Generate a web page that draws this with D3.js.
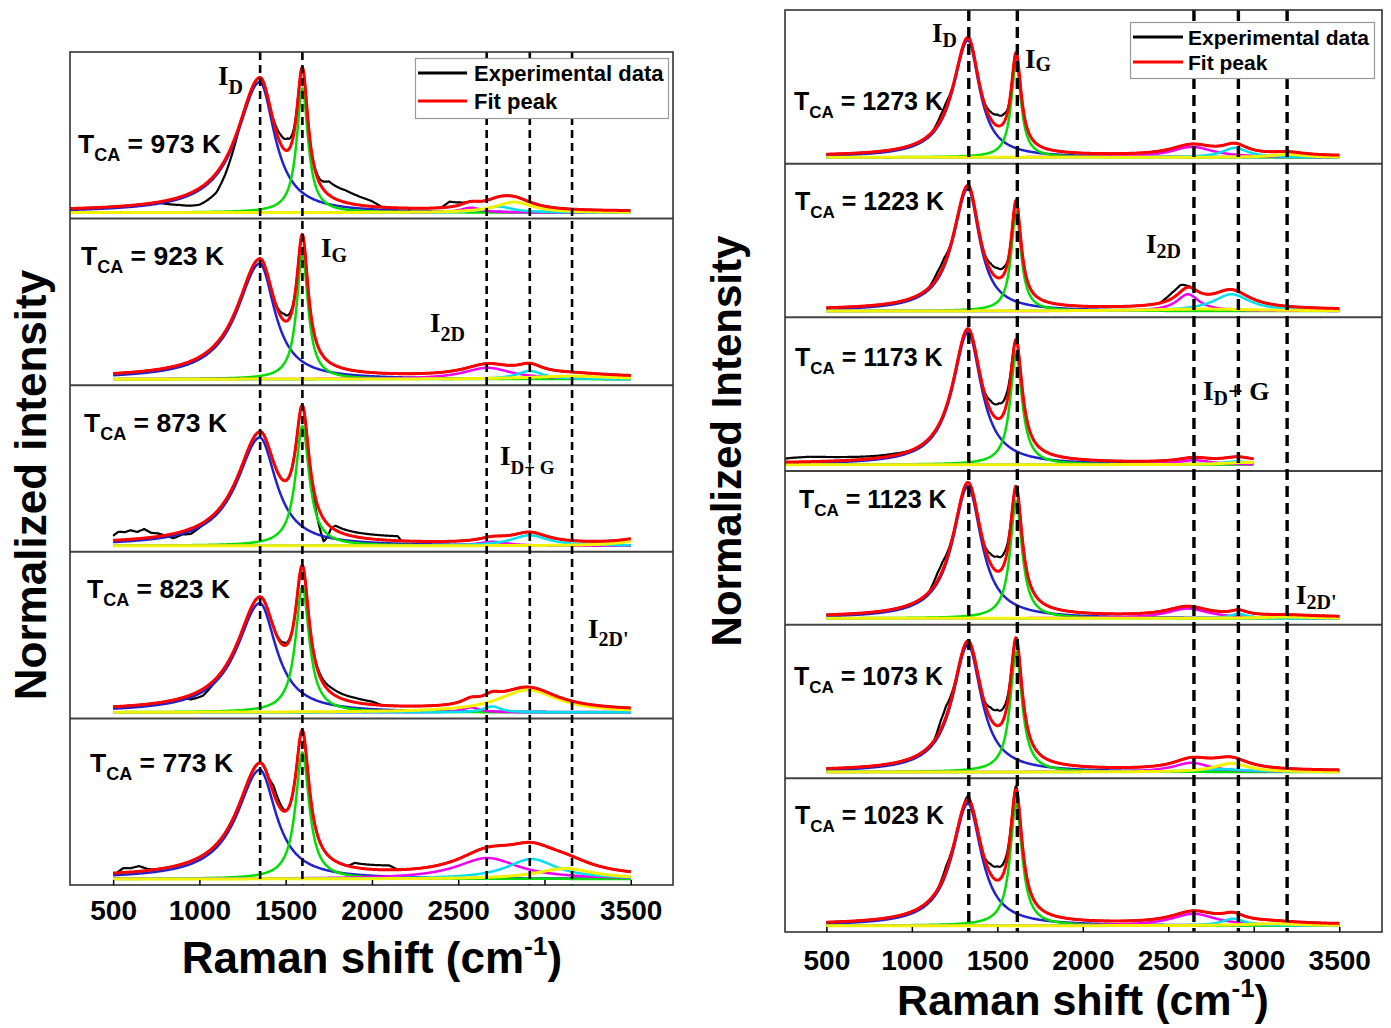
<!DOCTYPE html>
<html>
<head>
<meta charset="utf-8">
<script src="https://cdn.jsdelivr.net/npm/d3@7"></script>
<style>
  html, body { margin: 0; padding: 0; background: #ffffff; }
  svg { display: block; }
  text { font-family: "Liberation Sans", Arial, Helvetica, sans-serif; font-weight: bold; fill: #000; white-space: pre; }
  text.serif { font-family: "Liberation Serif", "Times New Roman", Times, serif; }
</style>
</head>
<body>
<svg id="chart" width="1391" height="1028"></svg>
<script>
// ---------- data ----------
const xTicks = [500, 1000, 1500, 2000, 2500, 3000, 3500];

const leftTemps  = [973, 923, 873, 823, 773];
const rightTemps = [1273, 1223, 1173, 1123, 1073, 1023];

// band positions marked with dashed guides (cm^-1): D, G, 2D, D+G, 2D'
const leftMarkers  = [1352, 1597, 2665, 2915, 3160];
const rightMarkers = [1333, 1617, 2650, 2910, 3195];

// measured scan window (cm^-1)
const leftScanStart  = [250, 500, 500, 500, 500];
const leftScanEnd    = [3500, 3500, 3500, 3500, 3500];
const rightScanStart = [500, 500, 258, 500, 500, 500];
const rightScanEnd   = [3500, 3500, 3000, 3500, 3500, 3500];

// constant background of the cumulative fit (normalized units)
const leftFitBaseline  = [0.008, 0.01, 0.01, 0.01, 0.01];
const rightFitBaseline = [0.008, 0.008, 0.008, 0.008, 0.008, 0.008];

// fitted Lorentzian bands: [band, centre, height, left HWHM, right HWHM]
const peaks973 = [["D",1350,0.870,160,105],["G",1597,0.825,40,40],["P1",2573,0.033,70,70],["P2",2735,0.040,100,100],["P3",2825,0.070,130,130]];
const peaks923 = [["D",1350,0.770,160,105],["G",1597,0.834,40,40],["P1",2670,0.076,170,170],["P2",2915,0.055,90,90],["P3",3150,0.020,300,300]];
const peaks873 = [["D",1350,0.721,160,115],["G",1597,0.797,48,48],["P1",2700,0.027,100,100],["P2",2915,0.070,130,130],["P3",3600,0.045,150,150]];
const peaks823 = [["D",1350,0.727,160,115],["G",1597,0.836,48,48],["P1",2573,0.033,60,60],["P2",2697,0.040,60,60],["P3",2905,0.150,210,210]];
const peaks773 = [["D",1350,0.727,160,115],["G",1597,0.843,48,48],["P1",2670,0.140,220,220],["P2",2925,0.133,177,177],["P3",3120,0.070,200,200]];

const peaks1273 = [["D",1328,0.837,105,82],["G",1610,0.673,35,35],["P1",2640,0.075,150,150],["P2",2890,0.068,90,90],["P3",3197,0.021,120,120]];
const peaks1223 = [["D",1328,0.877,105,82],["G",1610,0.710,35,35],["P1",2615,0.120,80,80],["P2",2870,0.120,130,130],["P3",2700,0.014,400,400]];
const peaks1173 = [["D",1328,0.946,108,95],["G",1610,0.789,42,42],["P1",2650,0.032,120,120],["P2",2900,0.024,100,100],["P3",2950,0.016,150,150]];
const peaks1123 = [["D",1328,0.944,108,95],["G",1610,0.839,42,42],["P1",2614,0.070,150,150],["P2",2912,0.032,60,60],["P3",3200,0.010,200,200]];
const peaks1073 = [["D",1328,0.909,108,95],["G",1610,0.857,42,42],["P1",2635,0.066,130,130],["P2",2800,0.020,200,200],["P3",2870,0.062,120,120]];
const peaks1023 = [["D",1328,0.873,110,95],["G",1610,0.875,42,42],["P1",2648,0.085,160,160],["P2",2880,0.050,80,80],["P3",3100,0.014,200,200]];

// experimental minus fit: [shift, difference]
const resid973 = [[750,0],[880,-0.05],[1000,-0.11],[1100,-0.13],[1150,-0.1],[1200,-0.05],[1240,0],
  [1420,0],[1470,0.06],[1510,0.08],[1550,0.03],[1580,0],
  [1650,0],[1700,0.03],[1750,0.09],[1850,0.08],[1950,0.05],[2000,0.035],[2060,0],[2150,-0.02],[2190,-0.03],[2230,0],
  [2400,0],[2450,0.035],[2500,0.02],[2550,0]];
const resid923 = [[850,0],[930,-0.015],[1000,0],[1440,0],[1490,0.045],[1540,0.02],[1570,0]];
const resid873 = [[500,0.03],[530,0.055],[570,0.05],[600,0.06],[640,0.045],[680,0.06],[720,0.03],[760,0.02],[800,0],
  [850,-0.03],[900,-0.02],[950,-0.035],[1000,-0.02],[1050,0],
  [1640,0],[1690,-0.1],[1720,-0.15],[1745,-0.08],[1765,0],[1790,0.03],[2150,0.03],[2170,0]];
const resid823 = [[900,0],[950,-0.03],[1020,-0.045],[1080,-0.02],[1120,0],[1440,0],[1490,0.02],[1540,0],
  [1640,0],[1700,0.02],[1770,0.035],[1900,0.03],[2000,0.02],[2060,0]];
const resid773 = [[520,0],[560,0.03],[600,0.025],[650,0.035],[700,0.01],[740,0],
  [1400,0],[1430,0.05],[1460,0.035],[1490,0.01],[1510,0],[1860,0],[1900,0.03],[2100,0.03],[2150,0]];

const resid1273 = [[1120,0],[1170,0.035],[1200,0.04],[1240,0],[1420,0],[1460,0.05],[1500,0.08],[1540,0.06],[1570,0]];
const resid1223 = [[1100,0],[1150,0.04],[1190,0.045],[1230,0],[1420,0],[1460,0.05],[1500,0.07],[1540,0.05],[1570,0],
  [2450,0],[2520,0.04],[2570,0.05],[2610,0.01],[2640,0]];
const resid1173 = [[258,0.025],[300,0.03],[400,0.035],[500,0.03],[600,0.025],[700,0.02],[900,0.012],[1000,0],
  [1420,0],[1460,0.07],[1510,0.11],[1550,0.08],[1580,0.03],[1600,0]];
const resid1123 = [[1100,0],[1150,0.055],[1180,0.06],[1220,0.02],[1250,0],[1420,0],[1460,0.07],[1500,0.107],[1540,0.08],[1575,0.02],[1595,0]];
const resid1073 = [[1130,0],[1170,0.065],[1200,0.075],[1240,0.02],[1260,0],[1420,0],[1460,0.08],[1500,0.114],[1540,0.08],[1575,0.02],[1595,0]];
const resid1023 = [[1150,0],[1200,0.035],[1250,0],[1300,0],[1328,0.025],[1350,0],[1420,0],[1460,0.07],[1500,0.1],[1540,0.07],[1575,0.02],[1590,0],[1610,0.025],[1630,0]];

// ---------- lookups ----------
const peakSets = {973:peaks973, 923:peaks923, 873:peaks873, 823:peaks823, 773:peaks773,
  1273:peaks1273, 1223:peaks1223, 1173:peaks1173, 1123:peaks1123, 1073:peaks1073, 1023:peaks1023};
const residSets = {973:resid973, 923:resid923, 873:resid873, 823:resid823, 773:resid773,
  1273:resid1273, 1223:resid1223, 1173:resid1173, 1123:resid1123, 1073:resid1073, 1023:resid1023};

const bandColour = {D:"#2222cc", G:"#00dd00", P1:"#f000f0", P2:"#00dff0", P3:"#f2f200"};
const bandOrder = ["D", "G", "P1", "P2", "P3"];

const svg = d3.select("#chart");

function lorentz(p, x) {
  const [, c, h, wl, wr] = p;
  const u = (x - c) / (x < c ? wl : wr);
  return h / (1 + u * u);
}

function addText(x, y, segs, serif) {
  const t = svg.append("text").attr("x", x).attr("y", y).classed("serif", !!serif);
  let prev = 0;
  segs.forEach(([str, size, off]) => {
    t.append("tspan").attr("font-size", size).attr("dy", off - prev).text(str);
    prev = off;
  });
  return t;
}

function drawPanel(cfg) {
  const n = cfg.temps.length;
  const h = (cfg.bottom - cfg.top) / n;
  const x = d3.scaleLinear().domain(cfg.xDomain).range([cfg.left, cfg.right]);
  const g = svg.append("g");

  cfg.temps.forEach((temp, i) => {
    const T = cfg.top + i * h, B = T + h;
    const y = d3.scaleLinear().domain(cfg.yDomain).range([B, T]);
    const peaks = peakSets[temp];
    const base = cfg.bases[i];
    const resid = residSets[temp];
    const r = d3.scaleLinear().domain(resid.map(d => d[0])).range(resid.map(d => d[1])).clamp(true);
    const grid = d3.range(cfg.starts[i], cfg.ends[i] + 0.001, 4);
    const fit = grid.map(s => [s, base + d3.sum(peaks, p => lorentz(p, s))]);
    const expt = fit.map(([s, v]) => [s, v + r(s)]);
    const line = d3.line().x(d => x(d[0])).y(d => y(d[1]));

    g.append("path").attr("d", line(expt)).attr("fill", "none")
      .attr("stroke", "#000").attr("stroke-width", 2.2).attr("stroke-linejoin", "round");
    bandOrder.forEach(b => {
      const p = peaks.find(q => q[0] === b);
      if (!p) return;
      const comp = grid.map(s => [s, lorentz(p, s)]);
      g.append("path").attr("d", line(comp)).attr("fill", "none")
        .attr("stroke", bandColour[b]).attr("stroke-width", b === "P3" ? 3 : 2.5);
    });
    g.append("path").attr("d", line(fit)).attr("fill", "none")
      .attr("stroke", "#ff0000").attr("stroke-width", 3).attr("stroke-linejoin", "round");

    if (i > 0) {
      g.append("line").attr("x1", cfg.left).attr("x2", cfg.right).attr("y1", T).attr("y2", T)
        .attr("stroke", "#444").attr("stroke-width", 2);
    }
  });

  // dashed band guides
  cfg.markers.forEach(m => {
    g.append("line").attr("x1", x(m)).attr("x2", x(m)).attr("y1", cfg.top).attr("y2", cfg.bottom)
      .attr("stroke", "#000").attr("stroke-width", cfg.dashWidth).attr("stroke-dasharray", cfg.dash);
  });

  // frame
  g.append("rect").attr("x", cfg.left).attr("y", cfg.top)
    .attr("width", cfg.right - cfg.left).attr("height", cfg.bottom - cfg.top)
    .attr("fill", "none").attr("stroke", "#333").attr("stroke-width", 1.6);

  // bottom axis
  const ax = g.append("g").attr("transform", `translate(0,${cfg.bottom})`)
    .call(d3.axisBottom(x).tickValues(xTicks).tickFormat(d3.format("d"))
      .tickSizeInner(-5).tickSizeOuter(0).tickPadding(cfg.tickPad));
  ax.select(".domain").remove();
  ax.selectAll(".tick line").attr("stroke", "#000").attr("stroke-width", 1.5);
  ax.selectAll(".tick text").attr("font-size", 28).attr("font-weight", "bold")
    .attr("font-family", "\"Liberation Sans\", Arial, sans-serif").attr("fill", "#000");
  return x;
}

const leftPanel = {
  temps: leftTemps, starts: leftScanStart, ends: leftScanEnd, bases: leftFitBaseline, markers: leftMarkers,
  left: 70, right: 673, top: 52, bottom: 885, xDomain: [250, 3745], yDomain: [-0.04, 1.07],
  dash: "8,5", dashWidth: 2.6, tickPad: 15
};
const rightPanel = {
  temps: rightTemps, starts: rightScanStart, ends: rightScanEnd, bases: rightFitBaseline, markers: rightMarkers,
  left: 785, right: 1382, top: 10, bottom: 932, xDomain: [258, 3750], yDomain: [-0.045, 1.053],
  dash: "11,6", dashWidth: 3.4, tickPad: 18
};

drawPanel(leftPanel);
drawPanel(rightPanel);

// ---------- legends ----------
function legend(bx, by, bw, bh, lx0, lx1, tx, rows, size) {
  svg.append("rect").attr("x", bx).attr("y", by).attr("width", bw).attr("height", bh)
    .attr("fill", "#fff").attr("stroke", "#999").attr("stroke-width", 1.2);
  rows.forEach(([label, colour, ly]) => {
    svg.append("line").attr("x1", lx0).attr("x2", lx1).attr("y1", ly).attr("y2", ly)
      .attr("stroke", colour).attr("stroke-width", 3);
    svg.append("text").attr("x", tx).attr("y", ly + size * 0.36).attr("font-size", size).text(label);
  });
}
legend(415.5, 58.5, 253, 60, 418, 467, 474, [["Experimental data", "#000", 73], ["Fit peak", "#ff0000", 101]], 22);
legend(1130.5, 22.5, 244, 56, 1133, 1183, 1188, [["Experimental data", "#000", 37], ["Fit peak", "#ff0000", 62]], 21);

// ---------- annealing temperature labels ----------
const leftLabelPos  = [[78,153],[81,265],[84,432],[87,598],[90,772]];
const rightLabelPos = [[794,110],[795,210],[795,366],[799,508],[794,685],[795,824]];
leftTemps.forEach((t, i) => addText(leftLabelPos[i][0], leftLabelPos[i][1],
  [["T", 26.5, 0], ["CA", 18, 8], [` = ${t} K`, 26.5, 0]]));
rightTemps.forEach((t, i) => addText(rightLabelPos[i][0], rightLabelPos[i][1],
  [["T", 25, 0], ["CA", 17, 8], [` = ${t} K`, 25, 0]]));

// ---------- band labels ----------
addText(218, 85,  [["I", 27, 0], ["D", 20, 9]], true);
addText(321, 257, [["I", 27, 0], ["G", 20, 5]], true);
addText(430, 332, [["I", 27, 0], ["2D", 20, 9]], true);
addText(500, 465, [["I", 27, 0], ["D+ G", 19, 9]], true);
addText(588, 638, [["I", 27, 0], ["2D'", 20, 8]], true);

addText(932, 42,   [["I", 27, 0], ["D", 20, 5]], true);
addText(1025, 68,  [["I", 27, 0], ["G", 20, 3]], true);
addText(1146, 253, [["I", 27, 0], ["2D", 20, 5]], true);
addText(1203, 400, [["I", 27, 0], ["D", 20, 5], ["+ G", 26, 0]], true);
addText(1296, 604, [["I", 27, 0], ["2D'", 20, 5]], true);

// ---------- axis titles ----------
function xTitle(cx, y, size) {
  const t = svg.append("text").attr("x", cx).attr("y", y).attr("text-anchor", "middle").attr("font-size", size);
  t.append("tspan").text("Raman shift (cm");
  t.append("tspan").attr("font-size", size * 0.6).attr("dy", -size * 0.42).text("-1");
  t.append("tspan").attr("font-size", size).attr("dy", size * 0.42).text(")");
}
xTitle(372, 973, 44);
xTitle(1083, 1015, 43);

svg.append("text").attr("transform", "translate(46,485) rotate(-90)")
  .attr("text-anchor", "middle").attr("font-size", 44).text("Normalized intensity");
svg.append("text").attr("transform", "translate(741,441) rotate(-90)")
  .attr("text-anchor", "middle").attr("font-size", 42).text("Normalized Intensity");
</script>
</body>
</html>
